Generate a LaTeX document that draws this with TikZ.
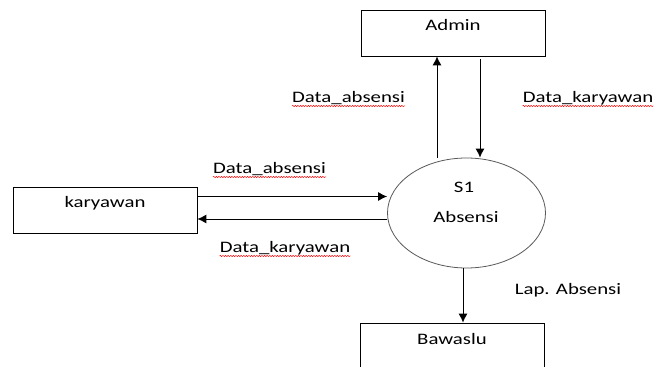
\documentclass[tikz,border=0pt]{standalone}
\usepackage{fontspec}
\setmainfont{Carlito}[FakeStretch=1.3]
\usepackage{tikz}
\usetikzlibrary{arrows.meta}
\usetikzlibrary{positioning}
\usetikzlibrary{shapes.geometric}
\usetikzlibrary{decorations.pathmorphing}
\tikzstyle{every node}+=[inner sep=0pt]
\tikzstyle{entity} = [rectangle, draw, line width=0.8pt, font=\fontsize{16}{19}\selectfont, minimum width=184pt, minimum height=46pt, text height=12pt, text depth=16pt]
\tikzstyle{process} = [ellipse, draw=black!65, line width=0.8pt, minimum width=158pt, minimum height=110pt]
\tikzstyle{line} = [draw, line width=0.9pt, -{Latex[length=9pt,width=9pt]}]
\tikzstyle{value} = [font=\fontsize{16}{19}\selectfont, anchor=base]
\tikzstyle{typo} = [draw=red, line width=0.5pt, decorate, decoration={snake, amplitude=0.6pt, segment length=2.6pt}]

\begin{document}
\begin{tikzpicture}[x=1pt, y=1pt, node distance=2cm]
            \useasboundingbox (0,0) rectangle (659,367);
            % Place nodes
            \node [process] (s1) at (466.5,154) {};
            \node [value] (s1id) at (464,174) {S1};
            \node [value] (s1name) at (466,144) {Absensi};
            \node [entity, above of=s1, node distance=180pt, xshift=-13.5pt] (admin) {Admin};
            \node [entity, left of=s1, node distance=361.5pt, yshift=3pt] (karyawan) {karyawan};
            \node [entity, below of=s1, node distance=133pt, xshift=-14.5pt] (bawaslu) {Bawaslu};
            % Flow labels
            \node [value] (v0) at (348.5,264) {Data\_absensi};
            \node [value] (v1) at (588,264) {Data\_karyawan};
            \node [value] (v2) at (269.5,193) {Data\_absensi};
            \node [value] (v3) at (285,114) {Data\_karyawan};
            \node [value] (v4) at (568,72) {Lap. Absensi};
            \foreach \v in {v0,v1,v2,v3}
              \draw [typo] ([yshift=-3pt]\v.base west) -- ([yshift=-3pt]\v.base east);
            % Draw edges
            \coordinate (up) at ([xshift=-16pt]admin.south);
            \coordinate (down) at ([xshift=27pt]admin.south);
            \coordinate (k0) at ([yshift=13.5pt]karyawan.east);
            \coordinate (k1) at ([yshift=-9pt]karyawan.east);
            \coordinate (rep) at ([xshift=11pt]bawaslu.north);
            \path [line] (up |- s1.north) -- (up);
            \path [line] ([yshift=-3pt]down) -- (down |- s1.north);
            \path [line] (k0) -- (k0 -| s1.west);
            \path [line] (k1 -| s1.west) -- (k1);
            \path [line] (rep |- s1.south) -- (rep);
\end{tikzpicture}
\end{document}
